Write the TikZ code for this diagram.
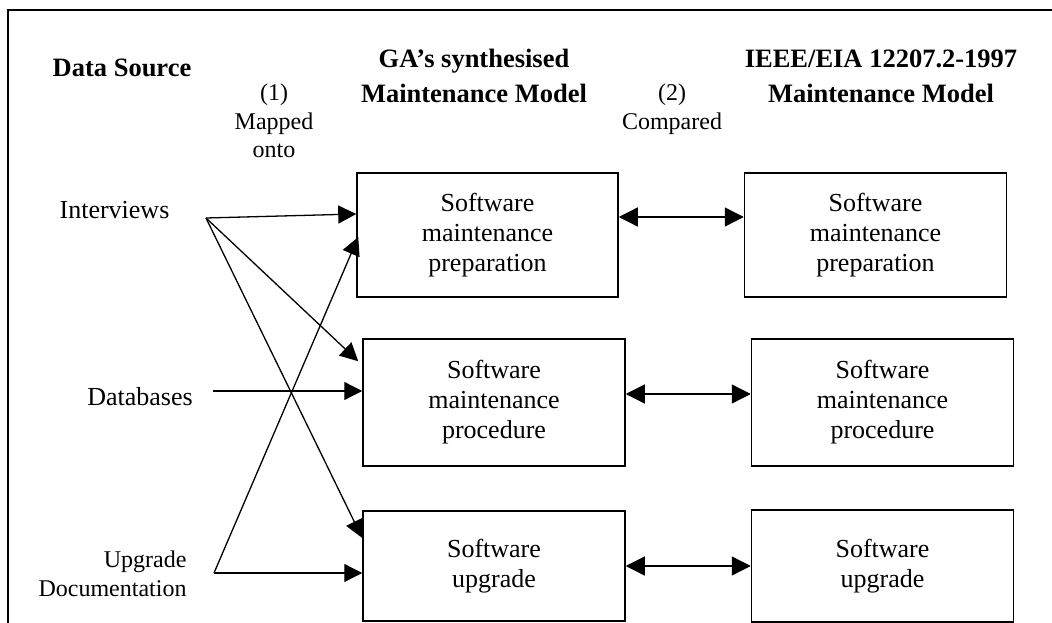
\documentclass[tikz,border=0pt]{standalone}
\usepackage{fontspec}
\setmainfont{Liberation Serif}
\usepackage{tikz}
\usetikzlibrary{arrows.meta,positioning}

\begin{document}
\begin{tikzpicture}[
  x=1pt, y=-1pt,
  >={Triangle[length=18pt,width=18pt]},
  frame/.style={line width=1.4pt},
  hdr/.style={font=\bfseries\fontsize{26.5}{35}\selectfont, align=center, inner sep=0pt},
  note/.style={font=\fontsize{24}{28.5}\selectfont, align=center, inner sep=0pt},
  src/.style={font=\fontsize{26}{30}\selectfont, inner sep=0pt},
  stage/.style={draw, line width=1.5pt, minimum width=261pt, minimum height=124pt, inner sep=0pt,
    align=center, font=\fontsize{26}{30}\selectfont},
  arrow/.style={->, line width=1.3pt},
  both/.style={<->, line width=1.3pt, >={Triangle[length=19pt,width=19pt]}}
]
\useasboundingbox (0,0) rectangle (1052,623);
\draw[frame] (8,623) -- (8,10) -- (1052,10);

% column headings
\node[hdr, anchor=base] (datasrc) at (122,77) {Data Source};
\node[note] (mapnote) at (274,121) {(1)\\Mapped\\onto};
\node[hdr] (gahead) at (474,76) {GA's synthesised\\Maintenance Model};
\node[note] (cmpnote) at (672,109) {(2)\\Compared};
\node[hdr] (ieeehead) at (881,76) {IEEE/EIA 12207.2-1997\\Maintenance Model};

% data sources
\node[src, anchor=base] (intv) at (114.5,218) {Interviews};
\node[src, anchor=base] (db) at (140,405) {Databases};
\node[src, font=\fontsize{24}{29}\selectfont, align=right] (upg) at (112.5,574) {Upgrade\\Documentation};
\coordinate (intv-o) at (206,218);
\coordinate (db-o) at (213,391);
\coordinate (upg-o) at (214,573);

% the two models
\node[stage] (g1) at (487.5,235) {Software\\maintenance\\preparation};
\node[stage, minimum width=262pt, minimum height=127pt] (g2) at (494,402.5) {Software\\maintenance\\procedure};
\node[stage, minimum width=262pt, minimum height=110pt] (g3) at (494,566) {Software\\upgrade};
\node[stage, minimum width=262pt, right=125pt of g1] (i1) {Software\\maintenance\\preparation};
\node[stage, minimum width=262pt, minimum height=127pt, right=125pt of g2] (i2) {Software\\maintenance\\procedure};
\node[stage, minimum width=262pt, minimum height=112pt, right=125pt of g3] (i3) {Software\\upgrade};

% (1) mapping
\draw[arrow] (intv-o) -- ([yshift=21pt]g1.west);
\draw[arrow] (intv-o) -- ([shift={(-4pt,-23pt)}]g2.north west);
\draw[arrow] (intv-o) -- ([yshift=28pt]g3.west);
\draw[arrow] (db-o) -- (db-o -| g2.west);
\draw[arrow] (upg-o) -- (upg-o -| g3.west);
\draw[arrow] (upg-o) -- ([shift={(2pt,-2pt)}]g1.west);

% (2) comparison
\draw[both] ([yshift=18pt]g1.east) -- ([yshift=18pt]i1.west);
\draw[both] ([yshift=8.5pt]g2.east) -- ([yshift=8.5pt]i2.west);
\draw[both] (g3.east) -- (i3.west);
\end{tikzpicture}
\end{document}
